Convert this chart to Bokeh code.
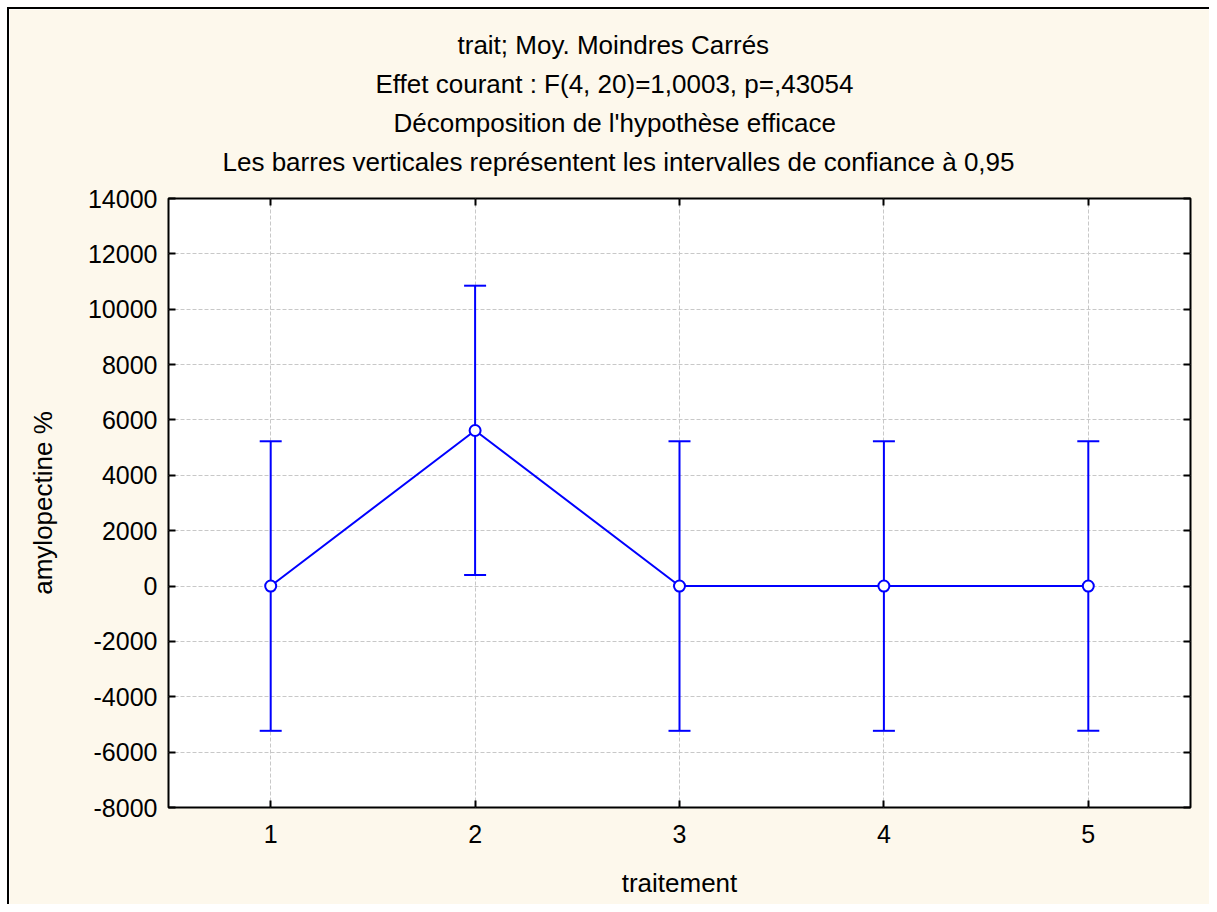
from bokeh.plotting import figure
from bokeh.models import (ColumnDataSource, Whisker, TeeHead, FixedTicker, LinearAxis,
                          Range1d, Title)
from bokeh.embed import file_html
from bokeh.resources import INLINE

# ---- data ----
categories = [1, 2, 3, 4, 5]
means = [0, 5620, 0, 0, 0]
upper = [5230, 10850, 5230, 5230, 5230]
lower = [-5230, 400, -5230, -5230, -5230]

y_ticks = [-8000, -6000, -4000, -2000, 0, 2000, 4000, 6000, 8000, 10000, 12000, 14000]
x_ticks = [1, 2, 3, 4, 5]

title_lines = [
    "trait; Moy. Moindres Carrés",
    "Effet courant : F(4, 20)=1,0003, p=,43054",
    "Décomposition de l'hypothèse efficace",
    "Les barres verticales représentent les intervalles de confiance à 0,95",
]
x_label = "traitement"
y_label = "amylopectine %"

FONT = "Liberation Sans"
BG = "#FDF8EC"
BLUE = "#0000FF"

# horizontal offsets (px from frame left) that centre each title line on the page
title_offsets = [289, 207, 225, 54]

border_svg = ("url(\"data:image/svg+xml,"
              "%3Csvg xmlns='http://www.w3.org/2000/svg' width='20' height='20'%3E"
              "%3Crect width='20' height='20' fill='white'/%3E"
              "%3Crect x='7' y='7' width='13' height='2' fill='black'/%3E"
              "%3Crect x='7' y='7' width='2' height='13' fill='black'/%3E"
              "%3C/svg%3E\")")

p = figure(frame_width=1022, frame_height=609,
           min_border_left=159, min_border_right=19,
           min_border_top=189, min_border_bottom=97,
           x_range=Range1d(0.5, 5.5), y_range=Range1d(-8000, 14000),
           output_backend="svg", toolbar_location=None,
           background_fill_color="white", border_fill_color=BG,
           outline_line_color="black", outline_line_width=2)
p.styles = {
    "border-style": "solid",
    "border-width": "9px 0 0 9px",
    "border-image-source": border_svg,
    "border-image-slice": "9",
    "border-image-repeat": "stretch",
}

def style_axis(ax, show_labels=True):
    ax.major_tick_in = 7
    ax.major_tick_out = 0
    ax.minor_tick_line_color = None
    ax.major_tick_line_color = "black"
    ax.major_tick_line_width = 2
    ax.axis_line_color = None
    ax.major_label_text_font = FONT
    ax.major_label_text_color = "black"
    if show_labels:
        ax.major_label_text_font_size = "25px"
    else:
        ax.major_label_text_font_size = "1px"
        ax.major_label_text_alpha = 0

yt = FixedTicker(ticks=y_ticks)
xt = FixedTicker(ticks=x_ticks)

p.yaxis.ticker = yt
p.xaxis.ticker = xt
style_axis(p.yaxis[0])
style_axis(p.xaxis[0])
p.yaxis.major_label_overrides = {t: str(t) for t in y_ticks}
p.yaxis.major_label_standoff = 11
p.xaxis.major_label_standoff = 17
p.yaxis.axis_label = y_label
p.xaxis.axis_label = x_label
for ax in (p.yaxis[0], p.xaxis[0]):
    ax.axis_label_text_font = FONT
    ax.axis_label_text_font_size = "26px"
    ax.axis_label_text_font_style = "normal"
    ax.axis_label_text_color = "black"
p.yaxis.axis_label_standoff = 27
p.xaxis.axis_label_standoff = 22

right = LinearAxis(ticker=yt)
style_axis(right, False)
p.add_layout(right, "right")
top = LinearAxis(ticker=xt)
style_axis(top, False)
p.add_layout(top, "above")

p.grid.grid_line_color = "#C8C8C8"
p.grid.grid_line_dash = "4 2"
p.grid.grid_line_width = 1
p.xgrid.ticker = xt
p.ygrid.ticker = yt

src = ColumnDataSource(dict(x=categories, mean=means, upper=upper, lower=lower))

w = Whisker(source=src, base="x", upper="upper", lower="lower",
            line_color=BLUE, line_width=2,
            upper_head=TeeHead(size=22, line_color=BLUE, line_width=2),
            lower_head=TeeHead(size=22, line_color=BLUE, line_width=2))
p.add_layout(w)

p.line("x", "mean", source=src, line_color=BLUE, line_width=2)
p.scatter("x", "mean", source=src, size=11, marker="circle",
          fill_color="white", line_color=BLUE, line_width=2)

# spacer between the frame and the title block
p.add_layout(Title(text=" ", standoff=2, text_font=FONT, text_font_size="12px"), "above")

# title lines, stacked above the frame (last line closest to the frame)
for t, off in reversed(list(zip(title_lines, title_offsets))):
    p.add_layout(Title(text=t, align="left", offset=off, standoff=7,
                       text_font=FONT, text_font_size="26px",
                       text_font_style="normal", text_color="black"), "above")

open("out.html", "w").write(file_html(p, INLINE))
